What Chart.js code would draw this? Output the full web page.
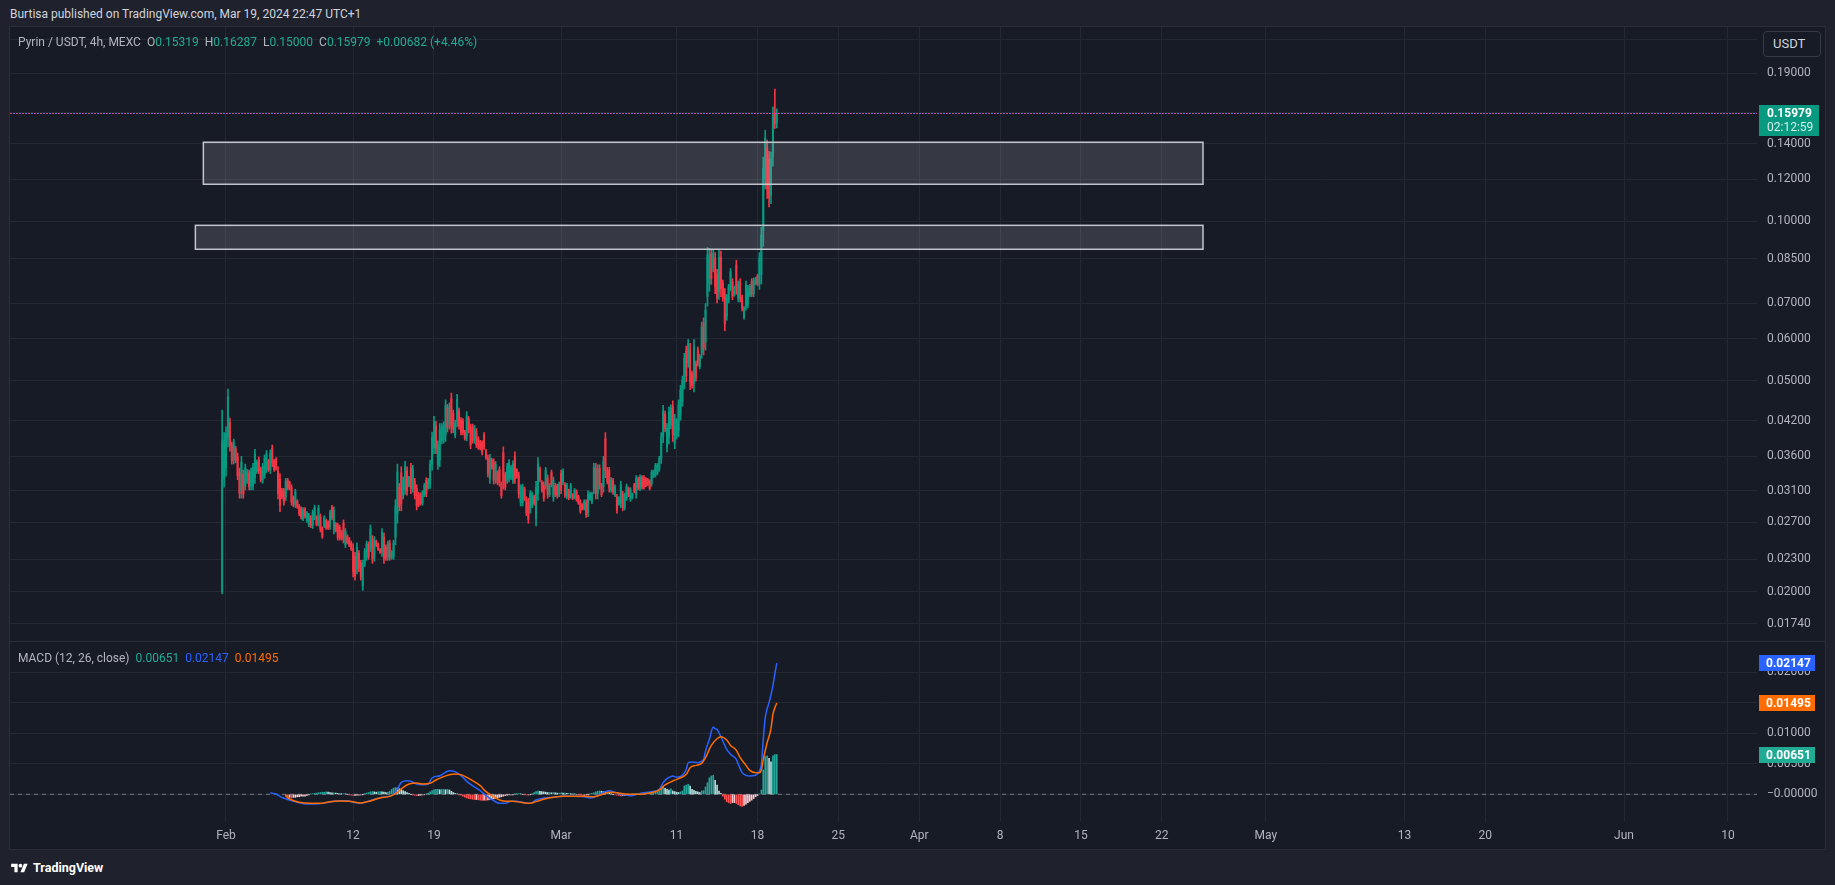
<!DOCTYPE html>
<html>
<head>
<meta charset="utf-8">
<title>Pyrin / USDT, 4h, MEXC</title>
<script src="https://cdn.jsdelivr.net/npm/chart.js@4.4.1/dist/chart.umd.min.js"></script>
<style>
  html, body { margin: 0; padding: 0; }
  body {
    width: 1835px; height: 885px; position: relative; overflow: hidden;
    background: #1f222d; color: #b2b5be;
    font-family: Roboto, "Liberation Sans", Arial, sans-serif; font-size: 12px;
  }
  #byline { position: absolute; left: 10px; top: 7px; color: #d1d4dc; white-space: pre; }
  #frame {
    position: absolute; left: 9px; top: 26px; width: 1817px; height: 824px;
    box-sizing: border-box; border: 1px solid #2a2e39; background: #171b26;
  }
  canvas { position: absolute; }
  #priceCanvas { left: 10px; top: 27px; }
  #macdCanvas { left: 10px; top: 642px; }
  #paneSep { position: absolute; left: 10px; top: 641px; width: 1815px; height: 1px; background: #2a2e39; }
  .legend { position: absolute; left: 18px; white-space: pre; color: #b2b5be; }
  .legend span { margin-left: 6px; }
  .legend b { font-weight: normal; }
  #priceLegend { top: 35px; }
  #macdLegend { top: 651px; }
  #currency {
    position: absolute; left: 1763px; top: 31px; width: 58px; height: 26px;
    box-sizing: border-box; border: 1px solid #363a45; border-radius: 4px; background: #171b26;
    color: #d1d4dc; font-size: 13px; line-height: 24px; padding-left: 9px;
  }
  #footer {
    position: absolute; left: 10px; top: 860px; height: 16px;
    color: #ffffff; font-weight: bold; font-size: 12.5px; line-height: 16px;
    display: flex; align-items: center; gap: 4px;
  }
</style>
</head>
<body>
<div id="byline">Burtisa published on TradingView.com, Mar 19, 2024 22:47 UTC+1</div>
<div id="frame"></div>
<canvas id="priceCanvas" width="1815" height="614"></canvas>
<div id="paneSep"></div>
<canvas id="macdCanvas" width="1815" height="206"></canvas>
<div id="priceLegend" class="legend"></div>
<div id="macdLegend" class="legend"></div>
<div id="currency">USDT</div>
<div id="footer">
  <svg width="19" height="13" viewBox="0 0 36 28"><path fill="#ffffff" d="M14 22H7V11H0V4h14v18zM28 22h-8l7.5-18h8L28 22z"/><circle cx="20" cy="8" r="4" fill="#ffffff"/></svg>
  <span>TradingView</span>
</div>

<script>
// ---- time axis (days since Jan 1, 2024) ----
const tickDays   = [31, 42, 49, 60, 70, 77, 84, 91, 98, 105, 112, 121, 133, 140, 152, 161];
const tickLabels = ['Feb', '12', '19', 'Mar', '11', '18', '25', 'Apr', '8', '15', '22', 'May', '13', '20', 'Jun', '10'];
const viewStart = 12.305, viewEnd = 163.51;
const firstBarDay = 30.67;   // first 4h bar, Jan 30
const barsPerDay = 6;

// ---- price axis ----
const priceTicks = [0.22, 0.19, 0.16, 0.14, 0.12, 0.10, 0.085, 0.07, 0.06, 0.05, 0.042, 0.036, 0.031, 0.027, 0.023, 0.02, 0.0174];
const priceMin = 0.01613, priceMax = 0.2325;

// ---- 4h candles, PYR/USDT ----
const opens = [
  0.02000,0.03276,0.03419,0.03911,0.04165,0.03778,0.03540,0.03721,0.03590,0.03357,
  0.03090,0.03332,0.03166,0.03230,0.03348,0.03157,0.03167,0.03277,0.03370,0.03553,
  0.03399,0.03244,0.03323,0.03401,0.03523,0.03394,0.03729,0.03523,0.03552,0.03373,
  0.03264,0.03109,0.03097,0.03015,0.03246,0.03212,0.03140,0.03009,0.02916,0.02964,
  0.02899,0.02868,0.02744,0.02861,0.02720,0.02674,0.02759,0.02663,0.02757,0.02762,
  0.02698,0.02769,0.02631,0.02661,0.02722,0.02705,0.02655,0.02883,0.02618,0.02684,
  0.02662,0.02645,0.02594,0.02691,0.02452,0.02545,0.02515,0.02475,0.02411,0.02330,
  0.02207,0.02359,0.02262,0.02052,0.02257,0.02320,0.02453,0.02424,0.02507,0.02319,
  0.02490,0.02458,0.02403,0.02375,0.02532,0.02426,0.02320,0.02469,0.02314,0.02330,
  0.02530,0.02809,0.03146,0.03350,0.03035,0.03121,0.03380,0.03173,0.03426,0.03137,
  0.03228,0.03131,0.03052,0.03046,0.02939,0.03047,0.03241,0.03143,0.03192,0.03482,
  0.03736,0.04108,0.03468,0.03547,0.03853,0.03866,0.03954,0.04434,0.04124,0.04626,
  0.04339,0.03947,0.04183,0.04382,0.04214,0.04197,0.04005,0.03928,0.04237,0.04077,
  0.04091,0.03857,0.04012,0.03889,0.03836,0.03816,0.03948,0.03686,0.03570,0.03265,
  0.03545,0.03505,0.03248,0.03350,0.03398,0.03187,0.03656,0.03323,0.03244,0.03270,
  0.03282,0.03250,0.03600,0.03389,0.03306,0.02942,0.02944,0.03123,0.02984,0.02954,
  0.02854,0.02910,0.03021,0.02746,0.03062,0.03407,0.03216,0.03181,0.03167,0.03272,
  0.03047,0.03354,0.03010,0.03173,0.03162,0.03050,0.03341,0.03215,0.03180,0.03022,
  0.03099,0.03030,0.03048,0.03011,0.03088,0.03022,0.02955,0.02918,0.02870,0.02947,
  0.02820,0.02987,0.02953,0.03125,0.03415,0.03062,0.03418,0.03173,0.03158,0.03884,
  0.03394,0.03378,0.03110,0.03237,0.03044,0.03014,0.02927,0.02933,0.03053,0.02883,
  0.03003,0.03131,0.02987,0.03002,0.03181,0.03047,0.03263,0.03133,0.03282,0.03282,
  0.03261,0.03255,0.03229,0.03195,0.03297,0.03320,0.03346,0.03405,0.03565,0.03921,
  0.04323,0.03742,0.03899,0.04126,0.04469,0.03810,0.03934,0.04022,0.04314,0.04565,
  0.04942,0.05686,0.05402,0.05720,0.05154,0.04943,0.05381,0.05721,0.05313,0.05651,
  0.06423,0.05902,0.07212,0.07597,0.08663,0.08139,0.08507,0.07945,0.07374,0.08543,
  0.07638,0.07273,0.06616,0.07099,0.07503,0.07688,0.07268,0.08266,0.07141,0.07678,
  0.07178,0.06587,0.06928,0.06967,0.07260,0.07702,0.07292,0.07619,0.07882,0.07624,
  0.07930,0.09605,0.12003,0.13743,0.13114,0.11197,0.13261,0.15880,0.15319
];
const highs = [
  0.04400,0.03990,0.04090,0.04820,0.04250,0.03830,0.03880,0.03760,0.03650,0.03420,
  0.03600,0.03390,0.03480,0.03400,0.03390,0.03420,0.03490,0.03710,0.03540,0.03590,
  0.03430,0.03490,0.03620,0.03690,0.03550,0.03700,0.03780,0.03550,0.03580,0.03440,
  0.03340,0.03130,0.03130,0.03270,0.03270,0.03230,0.03180,0.03030,0.03120,0.02980,
  0.02920,0.02890,0.02880,0.02880,0.02830,0.02810,0.02780,0.02850,0.02910,0.02780,
  0.02910,0.02800,0.02650,0.02780,0.02740,0.02720,0.02850,0.02910,0.02890,0.02700,
  0.02690,0.02670,0.02610,0.02730,0.02630,0.02560,0.02530,0.02490,0.02460,0.02370,
  0.02470,0.02390,0.02290,0.02290,0.02410,0.02490,0.02480,0.02670,0.02550,0.02540,
  0.02500,0.02470,0.02410,0.02630,0.02580,0.02450,0.02490,0.02500,0.02390,0.02500,
  0.02980,0.03480,0.03200,0.03440,0.03290,0.03520,0.03440,0.03300,0.03490,0.03460,
  0.03270,0.03180,0.03080,0.03070,0.03100,0.03200,0.03280,0.03270,0.03540,0.04000,
  0.04280,0.04190,0.03850,0.04150,0.04150,0.04180,0.04600,0.04510,0.04540,0.04740,
  0.04400,0.04210,0.04710,0.04440,0.04260,0.04240,0.04030,0.04370,0.04280,0.04140,
  0.04140,0.04120,0.04060,0.03920,0.03860,0.03850,0.03990,0.03710,0.03620,0.03630,
  0.03570,0.03560,0.03520,0.03380,0.03440,0.03220,0.03750,0.03360,0.03490,0.03550,
  0.03460,0.03530,0.03670,0.03410,0.03360,0.03180,0.03190,0.03150,0.03020,0.03000,
  0.03100,0.03080,0.03040,0.03230,0.03580,0.03440,0.03240,0.03220,0.03430,0.03320,
  0.03200,0.03390,0.03290,0.03200,0.03190,0.03220,0.03390,0.03410,0.03210,0.03200,
  0.03120,0.03200,0.03060,0.03130,0.03110,0.03040,0.02980,0.02930,0.02980,0.02980,
  0.03100,0.03080,0.03080,0.03490,0.03490,0.03470,0.03470,0.03200,0.03600,0.03990,
  0.03430,0.03430,0.03280,0.03270,0.03180,0.03050,0.03020,0.03230,0.03090,0.03070,
  0.03190,0.03150,0.03140,0.03070,0.03200,0.03310,0.03290,0.03320,0.03310,0.03310,
  0.03280,0.03270,0.03250,0.03390,0.03390,0.03490,0.03490,0.03600,0.03990,0.04490,
  0.04380,0.04150,0.04460,0.04500,0.04580,0.04320,0.04240,0.04600,0.04900,0.05100,
  0.05630,0.05810,0.05980,0.05880,0.05210,0.05980,0.05450,0.05790,0.05610,0.06450,
  0.06570,0.06990,0.08920,0.08880,0.08850,0.08810,0.08720,0.08110,0.08810,0.08780,
  0.07740,0.07460,0.07270,0.07600,0.08140,0.07790,0.07540,0.08440,0.07710,0.07790,
  0.07250,0.06910,0.07710,0.07570,0.07600,0.07790,0.07810,0.07840,0.07940,0.08720,
  0.09740,0.13200,0.14850,0.14220,0.13550,0.13500,0.16440,0.17750,0.16287
];
const lows = [
  0.01980,0.03150,0.03300,0.03750,0.03680,0.03480,0.03480,0.03500,0.03250,0.03000,
  0.03000,0.03000,0.03110,0.03200,0.03110,0.03110,0.03110,0.03200,0.03340,0.03340,
  0.03220,0.03200,0.03270,0.03350,0.03370,0.03340,0.03440,0.03370,0.03390,0.02990,
  0.02830,0.02990,0.02910,0.02970,0.03110,0.03110,0.02910,0.02890,0.02880,0.02870,
  0.02780,0.02740,0.02720,0.02750,0.02700,0.02650,0.02640,0.02630,0.02730,0.02660,
  0.02660,0.02590,0.02520,0.02640,0.02620,0.02620,0.02620,0.02730,0.02570,0.02590,
  0.02500,0.02500,0.02500,0.02470,0.02420,0.02460,0.02430,0.02390,0.02130,0.02100,
  0.02160,0.02180,0.02100,0.02010,0.02230,0.02290,0.02300,0.02380,0.02260,0.02280,
  0.02430,0.02390,0.02360,0.02330,0.02260,0.02290,0.02290,0.02290,0.02300,0.02300,
  0.02450,0.02690,0.02840,0.02840,0.02990,0.03050,0.03040,0.03150,0.03060,0.03080,
  0.02990,0.02850,0.02890,0.02910,0.02910,0.03020,0.03020,0.03120,0.03130,0.03390,
  0.03640,0.03640,0.03400,0.03440,0.03800,0.03810,0.03840,0.04000,0.04050,0.03980,
  0.03990,0.03900,0.04090,0.04050,0.03950,0.03950,0.03860,0.03850,0.03990,0.03720,
  0.03810,0.03810,0.03740,0.03710,0.03700,0.03620,0.03710,0.03550,0.03290,0.03200,
  0.03400,0.03190,0.03200,0.03180,0.03160,0.03000,0.03120,0.03110,0.03200,0.03220,
  0.03250,0.03200,0.03200,0.03270,0.03000,0.02900,0.02900,0.02970,0.02780,0.02690,
  0.02810,0.02880,0.02910,0.02660,0.02970,0.03220,0.03080,0.02960,0.03120,0.03000,
  0.03020,0.03150,0.02960,0.03020,0.03000,0.03020,0.03060,0.03180,0.03010,0.02990,
  0.02980,0.03000,0.02980,0.02990,0.02960,0.02920,0.02810,0.02850,0.02850,0.02760,
  0.02770,0.02970,0.02930,0.03060,0.02990,0.02990,0.03120,0.03020,0.03080,0.03280,
  0.03190,0.03080,0.03080,0.03050,0.03020,0.02810,0.02910,0.02880,0.02840,0.02850,
  0.02970,0.03020,0.02960,0.02990,0.03070,0.03000,0.03110,0.03100,0.03120,0.03120,
  0.03150,0.03170,0.03110,0.03160,0.03280,0.03290,0.03320,0.03370,0.03490,0.03820,
  0.04000,0.03670,0.03800,0.04060,0.03840,0.03720,0.03880,0.03920,0.04210,0.04470,
  0.04820,0.04980,0.05300,0.04810,0.04840,0.04760,0.04990,0.05330,0.05260,0.05510,
  0.05590,0.05710,0.06910,0.07370,0.07600,0.08020,0.07300,0.07010,0.07120,0.07200,
  0.07060,0.06210,0.06500,0.07010,0.07390,0.07110,0.07220,0.07280,0.07040,0.07040,
  0.06770,0.06530,0.06790,0.06860,0.07200,0.07200,0.07200,0.07580,0.07550,0.07430,
  0.07610,0.08970,0.11500,0.11040,0.10640,0.10790,0.12700,0.14960,0.15000
];
const closes = [
  0.03850,0.03864,0.03972,0.04660,0.03766,0.03533,0.03820,0.03539,0.03310,0.03063,
  0.03510,0.03059,0.03425,0.03370,0.03152,0.03374,0.03433,0.03634,0.03510,0.03378,
  0.03252,0.03447,0.03568,0.03639,0.03397,0.03646,0.03491,0.03397,0.03419,0.03058,
  0.02907,0.03011,0.02943,0.03225,0.03134,0.03128,0.02951,0.02911,0.03084,0.02887,
  0.02801,0.02763,0.02856,0.02770,0.02811,0.02786,0.02661,0.02817,0.02883,0.02678,
  0.02873,0.02622,0.02540,0.02759,0.02638,0.02635,0.02816,0.02757,0.02842,0.02607,
  0.02529,0.02526,0.02517,0.02509,0.02599,0.02475,0.02445,0.02405,0.02180,0.02141,
  0.02424,0.02212,0.02129,0.02248,0.02383,0.02460,0.02327,0.02627,0.02304,0.02501,
  0.02441,0.02402,0.02368,0.02585,0.02308,0.02314,0.02460,0.02322,0.02377,0.02470,
  0.02900,0.03362,0.02894,0.02930,0.03245,0.03450,0.03100,0.03278,0.03125,0.03403,
  0.03032,0.02900,0.02919,0.02934,0.03072,0.03173,0.03059,0.03248,0.03479,0.03909,
  0.04184,0.03723,0.03783,0.04044,0.04098,0.04125,0.04486,0.04077,0.04467,0.04094,
  0.04052,0.04164,0.04617,0.04109,0.03997,0.03994,0.03886,0.04292,0.04034,0.03783,
  0.03860,0.04074,0.03788,0.03742,0.03724,0.03655,0.03752,0.03574,0.03340,0.03566,
  0.03426,0.03246,0.03472,0.03210,0.03202,0.03033,0.03215,0.03148,0.03447,0.03501,
  0.03429,0.03481,0.03271,0.03291,0.03054,0.03138,0.03147,0.02997,0.02816,0.02737,
  0.03057,0.03050,0.02930,0.03145,0.03489,0.03253,0.03104,0.02999,0.03384,0.03048,
  0.03173,0.03186,0.03241,0.03047,0.03029,0.03190,0.03110,0.03376,0.03040,0.03169,
  0.03001,0.03170,0.02992,0.03109,0.02983,0.02938,0.02836,0.02862,0.02961,0.02793,
  0.03051,0.03064,0.03058,0.03426,0.03065,0.03398,0.03173,0.03047,0.03522,0.03387,
  0.03226,0.03133,0.03250,0.03083,0.03156,0.02846,0.03004,0.03178,0.02878,0.03037,
  0.03157,0.03040,0.03113,0.03058,0.03090,0.03264,0.03137,0.03287,0.03149,0.03149,
  0.03170,0.03185,0.03131,0.03356,0.03374,0.03460,0.03465,0.03566,0.03915,0.04390,
  0.04057,0.04078,0.04361,0.04434,0.03951,0.04230,0.04186,0.04498,0.04797,0.05006,
  0.05509,0.05105,0.05878,0.04970,0.04896,0.05797,0.05059,0.05399,0.05558,0.06309,
  0.05737,0.06798,0.08619,0.08654,0.07788,0.08692,0.07513,0.07175,0.08557,0.07437,
  0.07162,0.06398,0.07155,0.07512,0.08028,0.07212,0.07492,0.07454,0.07610,0.07153,
  0.06842,0.06853,0.07572,0.07464,0.07540,0.07289,0.07719,0.07801,0.07609,0.08527,
  0.09421,0.12566,0.14348,0.11517,0.11077,0.13094,0.15880,0.15297,0.15979
];
const countdown = '02:12:59';

// ---- drawn zones (rectangles) ----
const zoneStarts  = [29.04, 28.35];
const zoneEnds    = [115.56, 115.56];
const zoneTops    = [0.1409, 0.0982];
const zoneBottoms = [0.1174, 0.0885];

// ---- MACD (12, 26, close), values in thousandths ----
const macdTicks = [0, 0.005, 0.01, 0.015, 0.02];
const macdMin = -0.00453, macdMax = 0.02493;
const histFrom = 33;   // first bar index with a histogram value
const histMilli = [
  -0.3,-0.5,-0.5,-0.6,-0.5,-0.5,-0.4,-0.4,-0.3,-0.3,
  -0.3,-0.2,-0.1,0.05,0.1,0.15,0.2,0.25,0.3,0.35,
  0.35,0.4,0.35,0.3,0.25,0.25,0.2,0.15,0.15,0.1,
  0.1,0.05,0,-0.1,-0.15,-0.2,-0.2,-0.15,-0.15,-0.1,
  -0.05,0.1,0.2,0.3,0.4,0.45,0.4,0.35,0.4,0.45,
  0.4,0.35,0.3,0.35,0.5,0.8,1.0,1.1,1.05,0.9,
  0.75,0.6,0.45,0.3,0.15,0,-0.1,-0.15,-0.2,-0.2,
  -0.15,-0.1,-0.05,0.05,0.2,0.4,0.6,0.75,0.8,0.8,
  0.75,0.8,0.8,0.75,0.8,0.7,0.5,0.3,0.15,0.05,
  -0.05,-0.15,-0.3,-0.45,-0.6,-0.7,-0.75,-0.8,-0.85,-0.85,
  -0.9,-0.95,-1.0,-0.95,-1.0,-0.9,-0.85,-0.8,-0.75,-0.7,
  -0.6,-0.5,-0.4,-0.3,-0.2,-0.15,-0.1,-0.1,-0.05,0.05,
  0.1,0.1,0.05,0,-0.05,-0.1,-0.1,-0.05,0.1,0.3,
  0.45,0.55,0.5,0.45,0.4,0.35,0.3,0.3,0.25,0.3,
  0.25,0.2,0.2,0.25,0.2,0.2,0.15,0.15,0.1,0.1,
  0.05,0,-0.05,-0.1,-0.15,-0.15,-0.1,-0.05,0.05,0.15,
  0.25,0.4,0.5,0.55,0.5,0.45,0.35,0.4,0.3,0.1,
  0,-0.1,-0.15,-0.2,-0.25,-0.2,-0.2,-0.1,-0.05,0,
  0.05,0.05,0.1,0.1,0.15,0.2,0.2,0.25,0.25,0.3,
  0.3,0.35,0.4,0.45,0.55,1.1,1.35,1.0,0.8,0.7,
  0.9,0.55,0.45,0.35,0.3,0.4,0.55,1.35,1.5,1.65,
  1.35,0.8,0.65,0.5,0.4,0.3,0.55,0.6,1.2,1.9,
  2.7,3.0,3.1,2.3,1.5,0.55,0.15,-0.3,-0.8,-1.2,
  -1.35,-1.5,-1.35,-1.35,-1.5,-1.7,-1.9,-2.0,-1.8,-1.6,
  -1.35,-1.15,-0.95,-0.7,-0.4,-0.2,0.05,0.7,4.0,6.2,
  6.3,5.9,5.3,6.3,6.5,6.51
];
const macdAt = [
  25,28,31,34,39,44,49,54,59,65,68,72,75,80,85,88,91,93,96,98,
  101,104,107,109,113,116,118,121,124,127,130,134,137,141,144,147,150,153,156,160,
  163,167,172,177,182,188,191,195,198,201,203,208,212,217,222,227,229,231,234,236,
  239,241,242,244,247,248,250,251,253,255,256,257,258,260,262,264,267,268,270,272,
  274,277,279,280,281,282,283,284,285,286,287,288
];
const macdMilli = [
  0.25,0.05,-0.5,-0.85,-1.3,-1.58,-1.58,-1.36,-1.09,-1.04,-1.31,-1.47,-1.2,-0.71,-0.38,-0.22,0.87,1.96,2.23,2.13,
  1.69,1.58,1.69,2.67,3.05,3.6,3.87,3.71,3.05,2.13,1.42,0.6,-0.22,-1.04,-1.47,-1.47,-1.14,-1.14,-1.31,-1.47,
  -0.93,-0.6,-0.49,-0.33,-0.33,-0.38,-0.6,-0.22,0.33,0.6,0.44,-0.05,-0.22,0.15,0.4,0.82,1.91,2.56,3.0,2.78,
  3.11,4.09,5.18,5.29,5.18,5.29,5.72,7.09,9.0,11.01,10.74,10.63,10.08,8.72,7.36,6.54,5.72,4.91,3.54,3.11,
  3.0,3.11,3.82,4.91,9.0,12.5,14.0,15.0,16.3,17.8,19.7,21.47
];
const signalAt = [
  33,35,40,46,51,56,61,66,72,77,82,87,91,94,97,101,104,108,111,115,
  118,121,124,127,130,134,137,141,144,148,151,155,160,163,167,172,177,182,188,193,
  198,201,205,208,213,219,222,227,230,234,237,241,243,246,249,251,254,257,259,262,
  264,267,269,272,274,277,279,280,281,283,285,286,288
];
const signalMilli = [
  -0.22,-0.76,-1.31,-1.47,-1.47,-1.2,-1.09,-1.14,-1.42,-1.09,-0.6,-0.33,0.33,1.14,1.69,1.85,1.69,1.8,2.34,2.89,
  3.22,3.33,3.22,2.78,2.23,1.42,0.44,-0.38,-0.93,-1.14,-1.14,-1.31,-1.47,-1.2,-0.82,-0.49,-0.33,-0.33,-0.33,-0.38,
  0.05,0.33,0.27,0.11,0.0,0.05,0.2,0.71,1.53,2.18,2.56,3.27,4.36,4.74,5.07,6.0,8.01,9.1,9.43,8.89,
  8.01,7.2,6.0,4.74,3.92,3.54,3.54,3.98,5.72,8.45,10.74,13.08,14.95
];

// ---- styling ----
const FONT = 'Roboto, "Liberation Sans", Arial, sans-serif';
const GRID = '#242833';
const UP = '#089981', DOWN = '#f23645';
const MACD_COLOR = '#2962ff', SIGNAL_COLOR = '#ff6d00', HIST_TAG = '#22ab94';

Chart.defaults.font.family = FONT;
Chart.defaults.font.size = 12;
Chart.defaults.color = '#b2b5be';

const barDay = i => firstBarDay + i / barsPerDay;
const last = closes.length - 1;

// legends
const fmt = v => v.toFixed(5);
const change = closes[last] - closes[last - 1];
document.getElementById('priceLegend').innerHTML =
  'Pyrin / USDT, 4h, MEXC' +
  '<span>O<b style="color:#22ab94">' + fmt(opens[last]) + '</b></span>' +
  '<span>H<b style="color:#22ab94">' + fmt(highs[last]) + '</b></span>' +
  '<span>L<b style="color:#22ab94">' + fmt(lows[last]) + '</b></span>' +
  '<span>C<b style="color:#22ab94">' + fmt(closes[last]) + '</b></span>' +
  '<span style="color:#22ab94">+' + fmt(change) + ' (+' + (change / closes[last - 1] * 100).toFixed(2) + '%)</span>';

const lastHist = histMilli[histMilli.length - 1] / 1000;
const lastMacd = macdMilli[macdMilli.length - 1] / 1000;
const lastSignal = signalMilli[signalMilli.length - 1] / 1000;
document.getElementById('macdLegend').innerHTML =
  'MACD (12, 26, close)' +
  '<span style="color:' + HIST_TAG + '">' + fmt(lastHist) + '</span>' +
  '<span style="color:' + MACD_COLOR + '">' + fmt(lastMacd) + '</span>' +
  '<span style="color:' + SIGNAL_COLOR + '">' + fmt(lastSignal) + '</span>';

// scales take no extra room for half-labels at their ends
function noEdgePadding(s) {
  s.paddingTop = 0; s.paddingBottom = 0; s.paddingLeft = 0; s.paddingRight = 0;
}

function timeAxis(showLabels) {
  return {
    type: 'linear', min: viewStart, max: viewEnd, offset: false,
    grid: { color: GRID, drawTicks: false, offset: false },
    border: { display: false },
    ticks: {
      display: showLabels, autoSkip: false, maxRotation: 0, padding: 7,
      callback: v => tickLabels[tickDays.indexOf(v)]
    },
    afterBuildTicks: s => { s.ticks = tickDays.map(v => ({ value: v })); },
    afterFit: s => { s.height = showLabels ? 26 : 0; noEdgePadding(s); }
  };
}

// ---- price pane ----
const candleColors = closes.map((c, i) => c >= opens[i] ? UP : DOWN);
const wickData = highs.map((h, i) => ({ x: barDay(i), y: [lows[i], h] }));
const bodyData = opens.map((o, i) => ({ x: barDay(i), y: [o, closes[i]] }));

const zonesPlugin = {
  id: 'zones',
  afterDatasetsDraw(chart) {
    const { ctx, scales: { x, y } } = chart;
    ctx.save();
    zoneStarts.forEach((s, k) => {
      const x1 = x.getPixelForValue(s), x2 = x.getPixelForValue(zoneEnds[k]);
      const y1 = y.getPixelForValue(zoneTops[k]), y2 = y.getPixelForValue(zoneBottoms[k]);
      ctx.fillStyle = 'rgba(178, 181, 190, 0.2)';
      ctx.fillRect(x1, y1, x2 - x1, y2 - y1);
      ctx.strokeStyle = '#c3c6ce';
      ctx.lineWidth = 1.5;
      ctx.strokeRect(x1, y1, x2 - x1, y2 - y1);
    });
    ctx.restore();
  }
};

const lastPricePlugin = {
  id: 'lastPrice',
  afterDatasetsDraw(chart) {
    const { ctx, chartArea, scales: { y } } = chart;
    const py = Math.round(y.getPixelForValue(closes[last])) + 0.5;
    ctx.save();
    ctx.lineWidth = 1;
    ctx.setLineDash([1, 2]);
    ctx.strokeStyle = '#e8466b';
    ctx.beginPath(); ctx.moveTo(chartArea.left, py); ctx.lineTo(chartArea.right, py); ctx.stroke();
    ctx.lineDashOffset = -1;
    ctx.strokeStyle = '#5b66f2';
    ctx.beginPath(); ctx.moveTo(chartArea.left, py); ctx.lineTo(chartArea.right, py); ctx.stroke();
    ctx.restore();
  },
  afterDraw(chart) {
    const { ctx, chartArea, scales: { y } } = chart;
    const py = Math.round(y.getPixelForValue(closes[last]));
    const bx = chartArea.right + 2;
    ctx.save();
    ctx.fillStyle = UP;
    ctx.fillRect(bx, py - 8, 60, 31);
    ctx.textBaseline = 'middle';
    ctx.fillStyle = '#ffffff';
    ctx.font = 'bold 12px ' + FONT;
    ctx.fillText(fmt(closes[last]), bx + 8, py + 0.5);
    ctx.font = '12px ' + FONT;
    ctx.fillStyle = '#d5efe9';
    ctx.fillText(countdown, bx + 8, py + 15);
    ctx.restore();
  }
};

new Chart(document.getElementById('priceCanvas'), {
  type: 'bar',
  data: {
    datasets: [
      { data: wickData, backgroundColor: candleColors, barThickness: 1, grouped: false, order: 2 },
      { data: bodyData, backgroundColor: candleColors, barThickness: 1.4, grouped: false, order: 1 }
    ]
  },
  options: {
    responsive: false, animation: false, devicePixelRatio: 1,
    layout: { padding: 0 },
    plugins: { legend: { display: false }, tooltip: { enabled: false } },
    scales: {
      x: timeAxis(false),
      y: {
        type: 'logarithmic', position: 'right', min: priceMin, max: priceMax,
        grid: { color: GRID, drawTicks: false }, border: { display: false },
        ticks: { padding: 10, autoSkip: false, callback: v => Number(v).toFixed(5) },
        afterBuildTicks: s => { s.ticks = priceTicks.map(v => ({ value: v })); },
        afterFit: s => { s.width = 68; noEdgePadding(s); }
      }
    }
  },
  plugins: [zonesPlugin, lastPricePlugin]
});

// ---- MACD pane ----
const histData = histMilli.map((v, k) => ({ x: barDay(histFrom + k), y: v / 1000 }));
const histColors = histMilli.map((v, k) => {
  const prev = k > 0 ? histMilli[k - 1] : 0;
  if (v >= 0) return v >= prev ? '#26a69a' : '#b2dfdb';
  return v < prev ? '#ff5252' : '#ffcdd2';
});
const macdData = macdAt.map((i, k) => ({ x: barDay(i), y: macdMilli[k] / 1000 }));
const signalData = signalAt.map((i, k) => ({ x: barDay(i), y: signalMilli[k] / 1000 }));

const macdTagsPlugin = {
  id: 'macdTags',
  afterDraw(chart) {
    const { ctx, chartArea, scales: { y } } = chart;
    const bx = chartArea.right + 2;
    ctx.save();
    ctx.font = 'bold 12px ' + FONT;
    ctx.textBaseline = 'middle';
    [[lastMacd, MACD_COLOR], [lastSignal, SIGNAL_COLOR], [lastHist, HIST_TAG]].forEach(([v, color]) => {
      const py = Math.round(y.getPixelForValue(v));
      ctx.fillStyle = color;
      ctx.fillRect(bx, py - 8, 56, 16);
      ctx.fillStyle = '#ffffff';
      ctx.fillText(fmt(v), bx + 7, py + 0.5);
    });
    ctx.restore();
  }
};

new Chart(document.getElementById('macdCanvas'), {
  type: 'bar',
  data: {
    datasets: [
      { type: 'line', data: [{ x: viewStart, y: 0 }, { x: viewEnd, y: 0 }], borderColor: '#787b86',
        borderWidth: 1, borderDash: [4, 4], pointRadius: 0, order: 4 },
      { type: 'bar', data: histData, backgroundColor: histColors, barThickness: 1, grouped: false, order: 3 },
      { type: 'line', data: macdData, borderColor: MACD_COLOR, borderWidth: 1.5, pointRadius: 0,
        cubicInterpolationMode: 'monotone', order: 2 },
      { type: 'line', data: signalData, borderColor: SIGNAL_COLOR, borderWidth: 1.5, pointRadius: 0,
        cubicInterpolationMode: 'monotone', order: 1 }
    ]
  },
  options: {
    responsive: false, animation: false, devicePixelRatio: 1,
    layout: { padding: 0 },
    plugins: { legend: { display: false }, tooltip: { enabled: false } },
    scales: {
      x: timeAxis(true),
      y: {
        type: 'linear', position: 'right', min: macdMin, max: macdMax,
        grid: { color: GRID, drawTicks: false }, border: { display: false },
        ticks: { padding: 10, autoSkip: false, callback: v => v === 0 ? '\u22120.00000' : v.toFixed(5) },
        afterBuildTicks: s => { s.ticks = macdTicks.map(v => ({ value: v })); },
        afterFit: s => { s.width = 68; noEdgePadding(s); }
      }
    }
  },
  plugins: [macdTagsPlugin]
});
</script>
</body>
</html>
